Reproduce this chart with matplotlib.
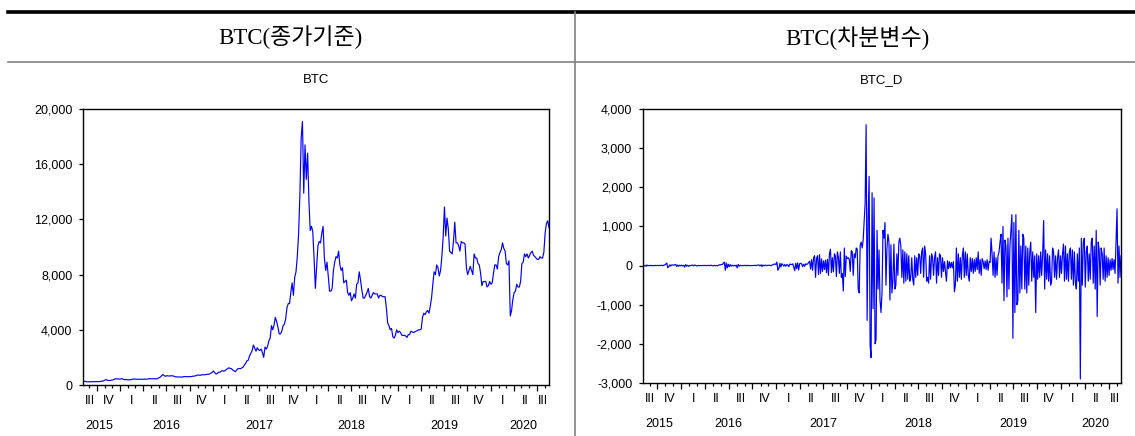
import numpy as np
import pandas as pd
import matplotlib
matplotlib.use("Agg")
import matplotlib.pyplot as plt
import matplotlib.dates as mdates
from matplotlib.lines import Line2D
from matplotlib.ticker import FuncFormatter, NullFormatter

# -- sample span (EViews daily data, Aug 2015 .. Aug 2020)
start, end = "2015-08-07", "2020-08-18"

# -- BTC close (about 6 readings per month)
btc = [
    278, 265, 258, 228, 230,
    229, 238, 240, 231, 233, 236,
    238, 246, 250, 265, 275, 300,
    360, 390, 330, 320, 330, 360,
    365, 395, 455, 440, 440, 425,
    435, 455, 430, 385, 405, 380,
    370, 375, 385, 410, 435, 425,
    420, 415, 415, 415, 415, 420,
    420, 420, 425, 430, 450, 460,
    450, 455, 455, 445, 440, 475,
    535, 580, 690, 760, 670, 630,
    680, 650, 660, 665, 665, 655,
    610, 590, 585, 575, 580, 575,
    575, 610, 605, 610, 595, 605,
    610, 612, 640, 640, 660, 700,
    730, 710, 705, 745, 740, 735,
    755, 765, 775, 790, 860, 900,
    1020, 900, 800, 830, 920, 920,
    1000, 1040, 1000, 1040, 1120, 1180,
    1250, 1200, 1180, 1090, 1030, 960,
    1080, 1180, 1200, 1180, 1240, 1290,
    1450, 1560, 1750, 1800, 2100, 2300,
    2480, 2900, 2680, 2450, 2700, 2550,
    2500, 2600, 2350, 2000, 2750, 2600,
    2800, 3200, 3400, 4300, 4000, 4350,
    4900, 4600, 4200, 3700, 3700, 3900,
    4300, 4400, 4800, 5600, 5900, 5900,
    6700, 7400, 6500, 7800, 8200, 9300,
    10900, 13700, 17900, 19100, 13900, 17400,
    14900, 16800, 13400, 11200, 11500, 11100,
    9200, 7000, 8500, 10100, 10400, 10300,
    11000, 11500, 9200, 8300, 8900, 7900,
    6800, 6800, 7000, 8300, 8900, 9300,
    9200, 9700, 8700, 8300, 8500, 7400,
    7500, 7600, 6700, 6500, 6700, 6100,
    6300, 6600, 6300, 7300, 7400, 8200,
    7600, 6900, 6300, 6300, 6500, 6700,
    7000, 6400, 6300, 6500, 6700, 6600,
    6600, 6600, 6300, 6500, 6500, 6400,
    6400, 6400, 5600, 4500, 4300, 4000,
    4100, 3500, 3400, 3600, 4000, 3800,
    3900, 3800, 3600, 3600, 3600, 3550,
    3450, 3650, 3650, 3900, 3850, 3800,
    3850, 3900, 3950, 4000, 4000, 4050,
    4900, 5200, 5100, 5300, 5400, 5200,
    5700, 6300, 7300, 8200, 8000, 8700,
    8500, 7900, 8300, 9300, 10700, 12900,
    10800, 12100, 11300, 9700, 9600, 9500,
    10400, 11800, 10300, 10300, 10100, 9700,
    10400, 10300, 10300, 10200, 8500, 8000,
    8300, 8600, 8300, 8000, 9500, 9200,
    9200, 8800, 8700, 8100, 7200, 7500,
    7500, 7500, 7100, 7200, 7500, 7300,
    7400, 8100, 8700, 8700, 8400, 9300,
    9600, 9800, 10300, 9900, 9700, 8800,
    8700, 9000, 5000, 5400, 6200, 6700,
    6800, 7300, 7100, 7100, 7500, 8800,
    8900, 9500, 9300, 9500, 9200, 9400,
    9600, 9700, 9400, 9300, 9200, 9100,
    9100, 9300, 9200, 9200, 9600, 11000,
    11700, 11900, 11400,
]

# -- BTC_D first difference (about 8 readings per month)
btc_d = [
    5, -12, 8, -20, 15, -6, 4,
    -3, 6, -4, 2, -5, 7, -2, 3,
    4, -3, 6, 2, 8, -5, 12, 15,
    40, 65, -55, -30, 18, -12, 20, 14,
    8, 22, 30, -25, 15, -18, 10, -8,
    12, -10, 6, -40, 25, -15, 8, -20,
    5, -6, 10, 12, -8, 15, 6, -10,
    -4, 6, -3, 2, -2, 3, -1, 4,
    2, -3, 4, 3, -2, 8, 6, -5,
    -4, 6, -3, 2, -8, 5, 20, 15,
    30, 25, 60, 90, -120, 70, -60, 35,
    -30, 25, -15, 10, -8, 6, -10, 12,
    -60, 30, -15, 8, -6, 5, -4, 6,
    4, -6, 8, -3, 5, -4, 3, -2,
    3, 2, 8, -4, 10, 12, 15, -8,
    20, -25, 15, -10, 12, 8, -6, 10,
    6, 8, -5, 12, 20, 35, 40, 25,
    90, -120, -80, 60, -40, 50, 20, -15,
    30, -20, 25, 15, -30, 40, 30, 25,
    45, -35, -130, 60, -80, 70, -110, 50,
    60, 40, -30, 35, -20, 45, 30, 40,
    80, 110, -90, 150, -120, 200, 250, -300,
    180, 250, -230, 280, -200, 170, -150, 120,
    -100, 140, -180, 160, -250, 300, 420, -180,
    200, -160, 300, 250, -280, 350, 220, -200,
    350, -300, -200, -650, 450, -280, 240, 180,
    200, 160, -150, 380, 350, -250, 300, 200,
    450, 420, -600, -700, 520, 600, 450, 650,
    1100, 1600, 3600, -1400, 1200, 2280, -2040, -2350,
    1860, -1100, 1730, -2000, -1900, 900, -600, 400,
    -880, -1200, -700, 900, 700, 1100, -500, 450,
    800, 600, -880, 530, -700, -400, 550, -600,
    -500, 300, -250, 600, 700, 500, -300, 400,
    -450, 350, -400, 300, -350, 250, -400, -300,
    200, -350, -500, 250, -300, 200, -250, 300,
    250, -200, 350, 450, -300, 500, 300, -400,
    -300, -450, 250, -350, 300, 200, -250, 200,
    350, -450, 200, -250, 300, 250, -300, 200,
    -150, 100, -150, -400, 120, -80, 100, -60,
    80, -60, 100, -670, -500, 450, -400, 300,
    -300, 200, -350, 250, 450, -300, 350, -250,
    300, -250, -400, 200, -150, 180, -200, 150,
    -150, 200, -100, 350, -200, 150, -250, 180,
    100, -80, 120, -100, 150, -120, 100, 80,
    700, 300, -250, 350, -300, 200, -250, 250,
    350, 600, 800, -450, 1000, -900, 650, 500,
    -800, 700, -600, 500, 900, 1300, -1860, 1100,
    -1200, 1300, -1000, -900, 900, -700, 500, -600,
    800, 700, -600, 500, -700, 450, -500, 350,
    600, -400, 350, -300, 250, -1200, 300, -350,
    250, -300, 350, -250, 300, 1150, -600, 400,
    -350, 300, -400, 250, -500, -400, 450, 350,
    -300, 250, -350, 200, 400, -300, 250, -200,
    300, 550, -400, 500, -350, 300, -400, 350,
    450, -350, 400, -500, 350, -450, -600, 300,
    -400, 450, -2900, 700, -500, 600, 700, -550,
    350, 500, -400, 300, -350, 600, 700, -450,
    500, -600, 900, -1300, 600, 400, -500, 450,
    300, -350, 450, -400, 250, -300, 200, -250,
    150, -120, 180, -100, 150, -200, 650, 1450,
    -450, 500, -300, 250,
]

headers = ["BTC(종가기준)", "BTC(차분변수)"]
titles = ["BTC", "BTC_D"]
ylims = [(0, 20000), (-3000, 4000)]
yticks = [np.arange(0, 20001, 4000), np.arange(-3000, 4001, 1000)]
quarter_names = ["I", "II", "III", "IV"]

plt.rcParams["font.family"] = ["Liberation Sans", "DejaVu Sans"]

fig = plt.figure(figsize=[11.35, 4.36], dpi=100)
W, H = 1135.0, 436.0

# -- table frame
fig.add_artist(Line2D([8 / W, 1], [1 - 12 / H] * 2, color="black", lw=2.6))
fig.add_artist(Line2D([8 / W, 1], [1 - 62 / H] * 2, color="#808080", lw=1.2))
fig.add_artist(Line2D([574.5 / W] * 2, [0, 1 - 12 / H], color="#808080", lw=1.2))

boxes = [[83, 109, 549, 385], [643, 109, 1121, 383]]
t0, t1 = pd.Timestamp(start), pd.Timestamp(end)
fmt = FuncFormatter(lambda v, p: "{:,.0f}".format(v))

for k, series in enumerate([btc, btc_d]):
    x0, y0, x1, y1 = boxes[k]
    ax = fig.add_axes([x0 / W, 1 - y1 / H, (x1 - x0) / W, (y1 - y0) / H])
    dates = pd.date_range(start, end, periods=len(series))
    ax.plot(dates, series, color="#0000ff", lw=0.85)
    ax.set_xlim(t0, t1)
    ax.set_ylim(*ylims[k])
    ax.set_yticks(yticks[k])
    ax.yaxis.set_major_formatter(fmt)

    ax.xaxis.set_major_locator(mdates.MonthLocator(bymonth=[1, 4, 7, 10]))
    ax.xaxis.set_minor_locator(mdates.MonthLocator())
    ax.xaxis.set_major_formatter(NullFormatter())
    ax.tick_params(axis="x", which="major", direction="out", length=4, width=0.9)
    ax.tick_params(axis="x", which="minor", direction="out", length=2.2, width=0.9)
    ax.tick_params(axis="y", direction="out", length=3.2, width=0.9, pad=4.5,
                   labelsize=9)
    for s in ax.spines.values():
        s.set_linewidth(1.0)

    # -- quarter labels centred in the visible part of each quarter
    qs = pd.date_range("2015-07-01", "2020-10-01", freq="QS")
    ypos = {}
    for a, b in zip(qs[:-1], qs[1:]):
        lo, hi = max(a, t0), min(b, t1)
        mid = mdates.date2num(lo + (hi - lo) / 2)
        ypos.setdefault(a.year, []).append(mid)
        ax.annotate(quarter_names[a.quarter - 1], xy=(mid, 0),
                    xycoords=("data", "axes fraction"), xytext=(0, -11.5),
                    textcoords="offset points", ha="center", va="center",
                    fontsize=9)
    for yr, mids in ypos.items():
        ax.annotate(str(yr), xy=(np.mean(mids), 0),
                    xycoords=("data", "axes fraction"), xytext=(0, -29.5),
                    textcoords="offset points", ha="center", va="center",
                    fontsize=9)

    cx = (x0 + x1) / 2 / W
    fig.text(cx, 1 - 80 / H, titles[k], ha="center", va="center", fontsize=9.5)
    fig.text([290, 857][k] / W, 1 - 37 / H, headers[k], ha="center",
             va="center", fontsize=16.5,
             family=["Liberation Serif", "Noto Sans CJK KR"])

fig.savefig("out.png", dpi=100)
